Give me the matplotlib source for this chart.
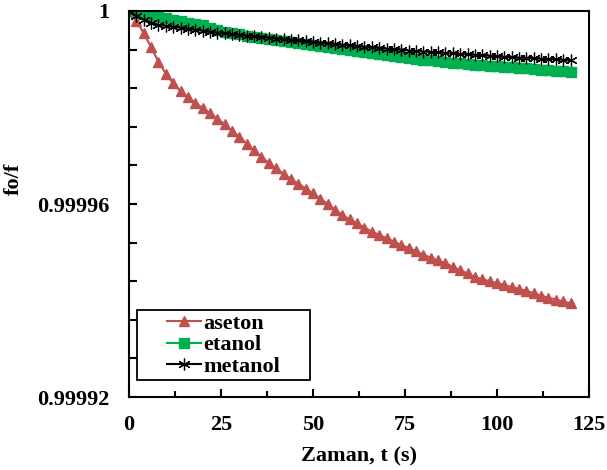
import matplotlib
matplotlib.use("Agg")
import matplotlib.pyplot as plt
import numpy as np
from matplotlib.ticker import MultipleLocator, FixedLocator
from matplotlib.patches import Rectangle

plt.rcParams['font.family'] = ['Liberation Serif', 'DejaVu Serif']
plt.rcParams['font.weight'] = 'bold'

# time axis, seconds
zaman = list(range(0, 121, 2))

# drop of fo/f below 1, in units of 1e-6
aseton_drop = [0, 2.0, 4.6, 7.5, 10.5, 13.0, 15.0, 16.6, 17.9, 19.0, 20.1,
               21.2, 22.3, 23.5, 24.8, 26.1, 27.5, 28.9, 30.2, 31.5, 32.6,
               33.7, 34.8, 35.8, 36.8, 37.8, 38.9, 40.0, 41.2, 42.3, 43.2,
               44.0, 44.9, 45.7, 46.4, 47.1, 47.8, 48.5, 49.1, 49.8, 50.5,
               51.1, 51.7, 52.3, 53.0, 53.7, 54.4, 55.1, 55.6, 56.0, 56.4,
               56.8, 57.2, 57.6, 58.0, 58.5, 59.0, 59.4, 59.8, 60.2, 60.6]
etanol_drop = [0, 0.3, 0.6, 0.9, 1.2, 1.5, 1.8, 2.1, 2.4, 2.7, 3.0,
               3.5, 4.0, 4.3, 4.6, 4.8, 5.1, 5.3, 5.6, 5.8, 6.0,
               6.3, 6.5, 6.7, 6.9, 7.1, 7.3, 7.5, 7.7, 7.9, 8.1,
               8.3, 8.5, 8.7, 8.9, 9.1, 9.3, 9.5, 9.7, 9.9, 10.1,
               10.2, 10.4, 10.5, 10.7, 10.8, 11.0, 11.1, 11.2, 11.3, 11.5,
               11.6, 11.7, 11.8, 11.9, 12.0, 12.2, 12.3, 12.4, 12.5, 12.6]
metanol_drop = [0, 1.0, 1.8, 2.4, 2.9, 3.1, 3.3, 3.5, 3.7, 3.9, 4.1,
                4.3, 4.5, 4.6, 4.8, 4.9, 5.1, 5.2, 5.4, 5.5, 5.7,
                5.8, 6.0, 6.1, 6.3, 6.4, 6.6, 6.7, 6.8, 7.0, 7.1,
                7.2, 7.4, 7.5, 7.6, 7.8, 7.9, 8.0, 8.2, 8.3, 8.4,
                8.5, 8.6, 8.7, 8.8, 8.9, 9.0, 9.1, 9.2, 9.3, 9.4,
                9.5, 9.6, 9.7, 9.7, 9.8, 9.9, 10.0, 10.0, 10.1, 10.2]

x_ticks = [0, 25, 50, 75, 100, 125]
y_ticks = [0.99992, 0.99996, 1.0]
y_tick_labels = ["0.99992", "0.99996", "1"]

t = np.array(zaman)
aseton = 1 - np.array(aseton_drop) * 1e-6
etanol = 1 - np.array(etanol_drop) * 1e-6
metanol = 1 - np.array(metanol_drop) * 1e-6

fig = plt.figure(figsize=(6.07, 4.70), dpi=100)
ax = fig.add_axes([0.2125, 0.1553, 0.7578, 0.8213])

ax.plot(t, aseton, color='#C0504D', lw=1.5, marker='^', ms=7.5,
        mec='#C0504D', label='aseton')
ax.plot(t, etanol, color='#00B050', lw=1.5, marker='s', ms=7,
        mec='#00B050', label='etanol')
ax.plot(t, metanol, color='black', lw=1.5, marker=(6, 2, 0), ms=8.5,
        mew=0.9, label='metanol')

ax.set_xlim(0, 125)
ax.set_ylim(0.99992, 1.0)
ax.xaxis.set_major_locator(FixedLocator(x_ticks))
ax.xaxis.set_minor_locator(MultipleLocator(12.5))
ax.yaxis.set_major_locator(FixedLocator(y_ticks))
ax.yaxis.set_minor_locator(MultipleLocator(0.000008))
ax.set_yticklabels(y_tick_labels)

ax.tick_params(axis='both', which='both', direction='in', labelsize=16,
               width=1.5, top=False, right=False)
ax.tick_params(axis='x', which='major', length=6, pad=13)
ax.tick_params(axis='x', which='minor', length=4)
ax.tick_params(axis='y', which='both', length=6, pad=14)

for s in ax.spines.values():
    s.set_linewidth(1.5)

ax.set_xlabel('Zaman, t (s)', fontsize=16, fontweight='bold', labelpad=8)
ax.set_ylabel('fo/f', fontsize=16, fontweight='bold')
ax.yaxis.set_label_coords(-0.229, 0.565)

# legend frame drawn separately (wider than its contents, as in the original)
ax.add_patch(Rectangle((0.0174, 0.044), 0.376, 0.181, transform=ax.transAxes,
                       fill=True, facecolor='white', edgecolor='black',
                       lw=1.3, zorder=5))
leg = ax.legend(loc='center left', bbox_to_anchor=(0.0826, 0.1347),
                fontsize=16, frameon=False, handlelength=1.55,
                handletextpad=0.1, borderpad=0.0, borderaxespad=0.0,
                labelspacing=0.05)
leg.set_zorder(6)

fig.savefig('out.png', dpi=100)
